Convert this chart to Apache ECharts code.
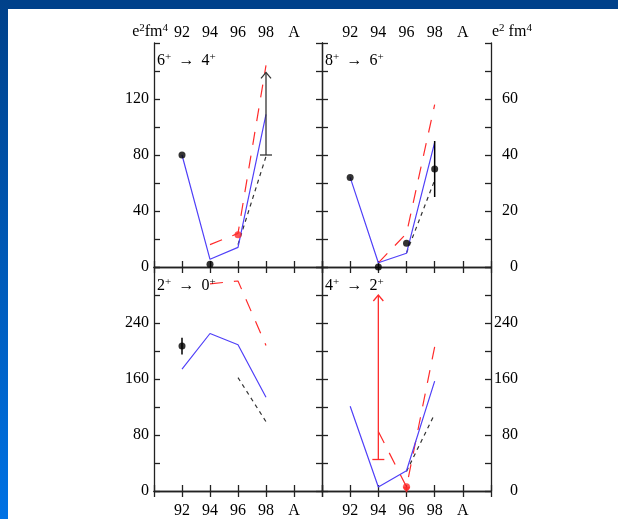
<!DOCTYPE html>
<html><head><meta charset="utf-8">
<script src="https://cdn.jsdelivr.net/npm/echarts@6/dist/echarts.min.js"></script>
<style>html,body{margin:0;padding:0;background:#fff}#c{width:618px;height:519px}</style>
</head><body><div id="c"></div>
<script>
// ---------- data ----------
const massNumbers = [92, 94, 96, 98];
const tickLabelA = 'A';          // label shown at position 100

// 6+ -> 4+  (e2fm4)
const blue64  = [80, 5.5, 14, 109];
const red64   = [null, 16, 24, 144];
const black64 = [null, null, 16, 79];
const exp64    = [[92, 80], [94, 2]];
const expRed64 = [[96, 23]];
const lim64    = [[98, 80, 139]];      // lower limit with arrow

// 8+ -> 6+
const blue86  = [32, 1.5, 4.9, 44.5];
const red86   = [null, 1.5, 12, 58];
const black86 = [null, null, 5, 31];
const exp86   = [[92, 32], [94, 0], [96, 8.5], [98, 35]];
const err86   = [[98, 25, 45]];

// 2+ -> 0+
const blue20  = [174, 225, 209, 134];
const red20   = [null, 296, 300, 208];
const black20 = [null, null, 162, 99];
const exp20   = [[92, 207]];
const err20   = [[92, 195, 219]];

// 4+ -> 2+
const blue42  = [121, 5.7, 29, 157];
const red42   = [null, 85, 6, 206];
const black42 = [null, null, 28, 110];
const expRed42 = [[96, 6]];
const lim42    = [[94, 45, 280]];

// axis ranges per panel: [max, tick step, label step]
const yMax   = [160, 80, 320, 320];
const yStep  = [20, 10, 40, 40];
const yLabel = [40, 20, 80, 80];

// ---------- helpers ----------
const FONT = 'Liberation Serif';
const AX = '#222';
function pair(ys) { return massNumbers.map((x, i) => [x, ys[i]]).filter(p => p[1] != null); }

const grids = [
  {left: 154, top: 43, width: 168, height: 224},
  {left: 322, top: 43, width: 169, height: 224},
  {left: 154, top: 267, width: 168, height: 225},
  {left: 322, top: 267, width: 169, height: 225}
];

const xAxis = [], yAxis = [];
function xFmt(v) { return v === 100 ? tickLabelA : (v === 90 || v === 102 ? '' : String(v)); }
for (let g = 0; g < 4; g++) {
  const topPanel = g < 2;
  ['bottom', 'top'].forEach(pos => {
    const showLab = (topPanel && pos === 'top') || (!topPanel && pos === 'bottom');
    xAxis.push({
      type: 'value', gridIndex: g, position: pos, min: 90, max: 102, interval: 2,
      axisLine: {show: true, lineStyle: {color: AX, width: 1.3}},
      axisTick: {show: true, inside: true, length: 6, lineStyle: {color: AX, width: 1.3}},
      splitLine: {show: false},
      axisLabel: {show: showLab, formatter: xFmt, color: '#000', fontFamily: FONT, fontSize: 16,
                  margin: pos === 'top' ? 2 : 12}
    });
  });
  const leftPanel = g % 2 === 0;
  ['left', 'right'].forEach(pos => {
    const showLab = (leftPanel && pos === 'left') || (!leftPanel && pos === 'right');
    yAxis.push({
      type: 'value', gridIndex: g, position: pos, min: 0, max: yMax[g], interval: yStep[g],
      axisLine: {show: true, lineStyle: {color: AX, width: 1.3}},
      axisTick: {show: true, inside: true, length: 6, lineStyle: {color: AX, width: 1.3}},
      splitLine: {show: false},
      axisLabel: {show: showLab, color: '#000', fontFamily: FONT, fontSize: 16,
        align: 'right', margin: pos === 'left' ? 5 : 27,
        formatter: v => (v % yLabel[g] === 0 && v !== yMax[g]) ? String(v) : ''}
    });
  });
}

const BLUE = '#5040f8', RED = '#ff2b2b';
const series = [];
function lines(g, b, r, k) {
  series.push({type: 'line', xAxisIndex: 2 * g, yAxisIndex: 2 * g, data: pair(k), symbol: 'none',
    lineStyle: {color: '#333', width: 1.2, type: [4, 4]}, z: 2});
  series.push({type: 'line', xAxisIndex: 2 * g, yAxisIndex: 2 * g, data: pair(r), symbol: 'none',
    lineStyle: {color: RED, width: 1.2, type: [13, 11]}, z: 2});
  series.push({type: 'line', xAxisIndex: 2 * g, yAxisIndex: 2 * g, data: pair(b), symbol: 'none',
    lineStyle: {color: BLUE, width: 1.2}, z: 3});
}
function dots(g, d, color, extra) {
  series.push(Object.assign({type: 'scatter', xAxisIndex: 2 * g, yAxisIndex: 2 * g, data: d,
    symbol: 'circle', symbolSize: 7, itemStyle: {color: color}, z: 5}, extra || {}));
}
function errBars(g, d) {
  series.push({type: 'custom', xAxisIndex: 2 * g, yAxisIndex: 2 * g, data: d, z: 4, clip: false,
    encode: {x: 0, y: [1, 2]},
    renderItem: (p, api) => {
      const a = api.coord([api.value(0), api.value(1)]), b = api.coord([api.value(0), api.value(2)]);
      return {type: 'line', shape: {x1: a[0], y1: a[1], x2: b[0], y2: b[1]}, style: {stroke: '#000', lineWidth: 1.5}};
    }});
}
function limits(g, d, color) {
  series.push({type: 'custom', xAxisIndex: 2 * g, yAxisIndex: 2 * g, data: d, z: 4, clip: false,
    encode: {x: 0, y: [1, 2]},
    renderItem: (p, api) => {
      const a = api.coord([api.value(0), api.value(1)]), b = api.coord([api.value(0), api.value(2)]);
      const st = {stroke: color, lineWidth: 1.3, fill: 'none'};
      return {type: 'group', children: [
        {type: 'line', shape: {x1: a[0], y1: a[1], x2: b[0], y2: b[1]}, style: st},
        {type: 'line', shape: {x1: a[0] - 6, y1: a[1], x2: a[0] + 6, y2: a[1]}, style: st},
        {type: 'polyline', shape: {points: [[b[0] - 5, b[1] + 6], [b[0], b[1]], [b[0] + 5, b[1] + 6]]}, style: st}
      ]};
    }});
}

lines(0, blue64, red64, black64);
limits(0, lim64, '#333');
dots(0, exp64, '#000');
dots(0, expRed64, RED);

lines(1, blue86, red86, black86);
errBars(1, err86);
dots(1, exp86, '#000');

lines(2, blue20, red20, black20);
errBars(2, err20);
dots(2, exp20, '#000');

lines(3, blue42, red42, black42);
limits(3, lim42, RED);
dots(3, expRed42, RED);
dots(3, expRed42, RED, {symbol: 'triangle', symbolRotate: 180, symbolSize: [8, 6], symbolOffset: [0, 3]});

// ---------- texts ----------
const rich = {
  n: {fontFamily: FONT, fontSize: 16, lineHeight: 18, fill: '#000', color: '#000'},
  s: {fontFamily: FONT, fontSize: 11, lineHeight: 10, verticalAlign: 'top', fill: '#000', color: '#000'}
};
function label(x, y, txt, align) {
  return {type: 'text', x: x, y: y, z: 10,
    style: {text: txt, rich: rich, fontFamily: FONT, fontSize: 16, align: align || 'left', verticalAlign: 'middle', fill: '#000'}};
}
const ARROW = ' \u2009\u2192\u2009 ';

const option = {
  animation: false,
  backgroundColor: '#fff',
  grid: grids,
  xAxis: xAxis,
  yAxis: yAxis,
  series: series,
  graphic: [
    {type: 'rect', shape: {x: 0, y: 0, width: 618, height: 9}, style: {fill: '#00418a'}, z: 0},
    {type: 'rect', shape: {x: 0, y: 0, width: 8, height: 519}, z: 0,
     style: {fill: new echarts.graphic.LinearGradient(0, 0, 0, 1, [{offset: 0, color: '#00418a'}, {offset: 1, color: '#0072e4'}])}},
    label(168, 32, '{n|e}{s|2}{n|fm}{s|4}', 'right'),
    label(492, 32, '{n|e}{s|2}{n| fm}{s|4}', 'left'),
    label(157, 61, '{n|6}{s|+}{n|' + ARROW + '4}{s|+}'),
    label(325, 61, '{n|8}{s|+}{n|' + ARROW + '6}{s|+}'),
    label(157, 286, '{n|2}{s|+}{n|' + ARROW + '0}{s|+}'),
    label(325, 286, '{n|4}{s|+}{n|' + ARROW + '2}{s|+}')
  ]
};
echarts.init(document.getElementById('c'), null, {renderer: 'canvas'}).setOption(option);
</script>
</body></html>
